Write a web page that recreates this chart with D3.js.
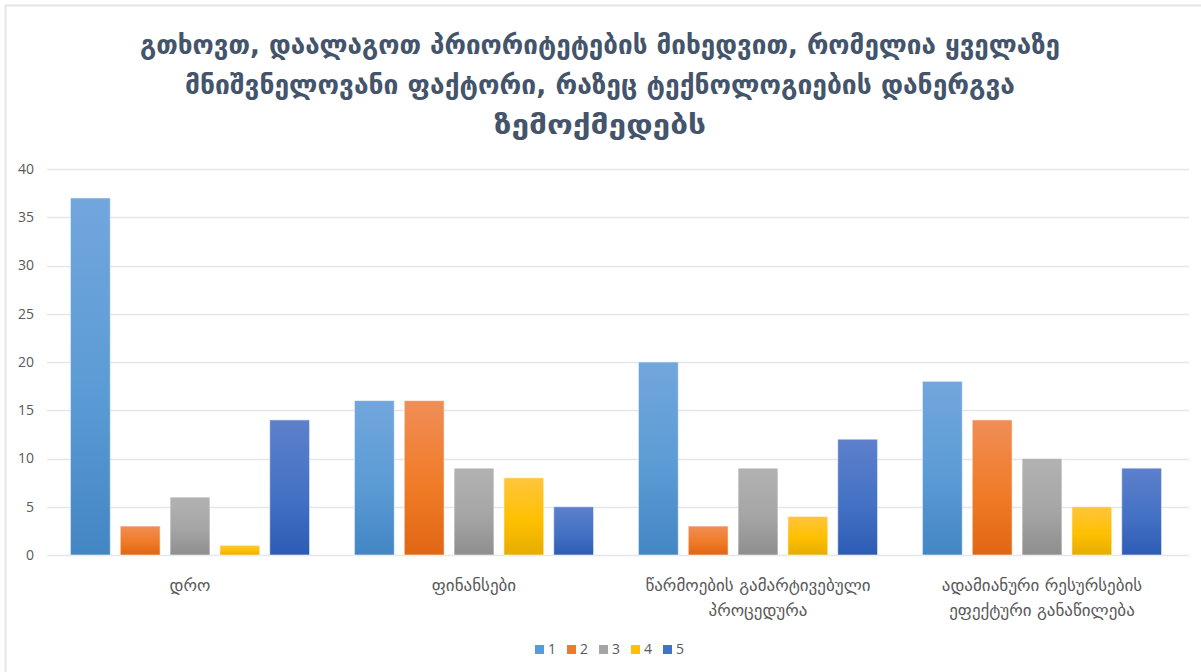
<!DOCTYPE html>
<html>
<head>
<meta charset="utf-8">
<script src="https://cdn.jsdelivr.net/npm/d3@7"></script>
<style>
  body { margin: 0; background: #fff; }
  svg { display: block; font-family: "DejaVu Sans", sans-serif; }
</style>
</head>
<body>
<div id="chart"></div>
<script>
// categories (x axis), each label split into lines
const categories = [
  ["დრო"],
  ["ფინანსები"],
  ["წარმოების გამარტივებული", "პროცედურა"],
  ["ადამიანური რესურსების", "ეფექტური განაწილება"]
];
const seriesNames = ["1", "2", "3", "4", "5"];
const s1 = [37, 16, 20, 18];
const s2 = [3, 16, 3, 14];
const s3 = [6, 9, 9, 10];
const s4 = [1, 8, 4, 5];
const s5 = [14, 5, 12, 9];
const yTicks = [0, 5, 10, 15, 20, 25, 30, 35, 40];
const titleLines = [
  "გთხოვთ, დაალაგოთ პრიორიტეტების მიხედვით, რომელია ყველაზე",
  "მნიშვნელოვანი ფაქტორი, რაზეც ტექნოლოგიების დანერგვა",
  "ზემოქმედებს"
];

const seriesValues = [s1, s2, s3, s4, s5];
// gradient stops: top, middle, bottom
const colors = [
  ["#72a6dd", "#5b9bd5", "#4386c4"],
  ["#f08e56", "#f07b27", "#e06614"],
  ["#b2b2b2", "#a5a5a5", "#8e8e8e"],
  ["#ffc53d", "#ffc000", "#e5ad00"],
  ["#5d80cc", "#4472c4", "#2d5cb5"]
];

var width = 1201, height = 672;
var margin = {left: 48, right: 17, top: 169, bottom: 117};

var svg = d3.select("#chart").append("svg")
  .attr("width", width)
  .attr("height", height);

// chart border
svg.append("rect")
  .attr("x", 5.5).attr("y", 5.5)
  .attr("width", width + 20).attr("height", height + 20)
  .attr("fill", "none")
  .attr("stroke", "#e1e5ea")
  .attr("stroke-width", 2);

var defs = svg.append("defs");
colors.forEach(function(c, i) {
  var g = defs.append("linearGradient")
    .attr("id", "grad" + i)
    .attr("x1", 0).attr("y1", 0).attr("x2", 0).attr("y2", 1);
  g.append("stop").attr("offset", "0%").attr("stop-color", c[0]);
  g.append("stop").attr("offset", "55%").attr("stop-color", c[1]);
  g.append("stop").attr("offset", "100%").attr("stop-color", c[2]);
});

var x0 = d3.scaleBand()
  .domain(d3.range(categories.length))
  .range([margin.left, width - margin.right]);

var x1 = d3.scaleBand()
  .domain(seriesNames)
  .range([0, x0.bandwidth()])
  .paddingInner(0.2)
  .paddingOuter(0.45);

var y = d3.scaleLinear()
  .domain([0, 40])
  .range([height - margin.bottom, margin.top]);

// gridlines
svg.append("g")
  .selectAll("line")
  .data(yTicks)
  .enter()
  .append("line")
  .attr("x1", margin.left - 1)
  .attr("x2", width - margin.right + 5)
  .attr("y1", d => Math.round(y(d)) + 0.5)
  .attr("y2", d => Math.round(y(d)) + 0.5)
  .attr("stroke", "#e3e6ea")
  .attr("stroke-width", 1.5);

// y axis labels
var yAxis = d3.axisLeft(y).tickValues(yTicks).tickSize(0).tickPadding(0);
var gy = svg.append("g")
  .attr("transform", "translate(" + 34 + ",0)")
  .call(yAxis);
gy.select(".domain").remove();
gy.selectAll("text")
  .attr("fill", "#595959")
  .style("font-size", "14px")
  .style("font-family", "'Open Sans', 'DejaVu Sans', sans-serif");

// bars
var groups = svg.append("g")
  .selectAll("g")
  .data(categories)
  .enter()
  .append("g")
  .attr("transform", (d, i) => "translate(" + x0(i) + ",0)");

groups.selectAll("rect")
  .data((d, i) => seriesValues.map((vals, s) => ({s: s, v: vals[i]})))
  .enter()
  .append("rect")
  .attr("x", d => x1(seriesNames[d.s]))
  .attr("y", d => y(d.v))
  .attr("width", x1.bandwidth())
  .attr("height", d => y(0) - y(d.v))
  .attr("fill", d => "url(#grad" + d.s + ")")
  .attr("stroke", "rgba(255,255,255,0.55)")
  .attr("stroke-width", 1);

// x axis labels
var xl = svg.append("g")
  .selectAll("text")
  .data(categories)
  .enter()
  .append("text")
  .attr("x", (d, i) => x0(i) + x0.bandwidth() / 2)
  .attr("y", 591)
  .attr("text-anchor", "middle")
  .attr("fill", "#595959")
  .style("font-size", "17px");
xl.selectAll("tspan")
  .data(d => d)
  .enter()
  .append("tspan")
  .attr("x", function() { return d3.select(this.parentNode).attr("x"); })
  .attr("dy", (d, i) => i === 0 ? 0 : 25)
  .text(d => d);

// title
var titleWidths = [920, 830, 212];
svg.append("g")
  .selectAll("text")
  .data(titleLines)
  .enter()
  .append("text")
  .attr("x", 600)
  .attr("y", (d, i) => 54 + i * 40)
  .attr("text-anchor", "middle")
  .attr("fill", "#44546a")
  .attr("textLength", (d, i) => titleWidths[i])
  .attr("lengthAdjust", "spacingAndGlyphs")
  .style("font-size", "26px")
  .style("font-weight", "bold")
  .text(d => d);

// legend
var legend = svg.append("g")
  .selectAll("g")
  .data(seriesNames)
  .enter()
  .append("g")
  .attr("transform", (d, i) => "translate(" + (535 + i * 32) + ",645)");
legend.append("rect")
  .attr("width", 9).attr("height", 9)
  .attr("fill", (d, i) => colors[i][1]);
legend.append("text")
  .attr("x", 13).attr("y", 9)
  .attr("fill", "#595959")
  .style("font-size", "14px")
  .style("font-family", "'Open Sans', 'DejaVu Sans', sans-serif")
  .text(d => d);
</script>
</body>
</html>
